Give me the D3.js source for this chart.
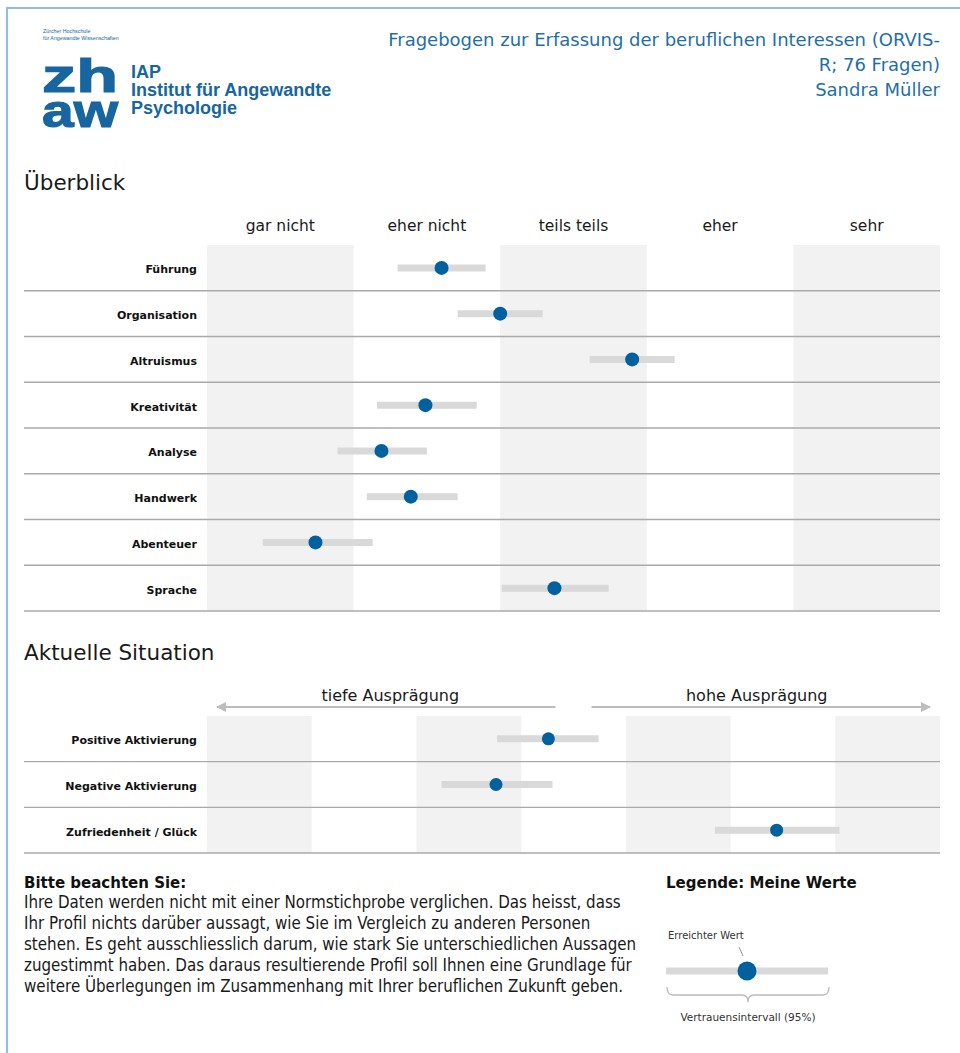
<!DOCTYPE html>
<html>
<head>
<meta charset="utf-8">
<script src="https://cdn.jsdelivr.net/npm/d3@7"></script>
<style>
  body { margin: 0; background: #fff; }
  svg text { font-family: "DejaVu Sans", sans-serif; }
</style>
</head>
<body>
<div id="wrapper"></div>
<script>
// 1. Data

const agreementLabels = ["gar nicht", "eher nicht", "teils teils", "eher", "sehr"];

const interestNames = ["Führung", "Organisation", "Altruismus", "Kreativität",
  "Analyse", "Handwerk", "Abenteuer", "Sprache"];
const interestValues = [2.10, 2.50, 3.40, 1.99, 1.69, 1.89, 1.24, 2.87];
const interestLow = [1.80, 2.21, 3.11, 1.66, 1.39, 1.59, 0.88, 2.51];
const interestHigh = [2.40, 2.79, 3.69, 2.34, 2.00, 2.21, 1.63, 3.24];

const directionLabels = ["tiefe Ausprägung", "hohe Ausprägung"];

const situationNames = ["Positive Aktivierung", "Negative Aktivierung", "Zufriedenheit / Glück"];
const situationValues = [3.76, 3.26, 5.94];
const situationLow = [3.27, 2.74, 5.35];
const situationHigh = [4.24, 3.80, 6.54];

// legend example: low, reached value, high
const legendSample = [0, 0.5, 1];

const titleLines = ["Fragebogen zur Erfassung der beruflichen Interessen (ORVIS-",
  "R; 76 Fragen)", "Sandra Müller"];

const noteLines = [
  "Ihre Daten werden nicht mit einer Normstichprobe verglichen. Das heisst, dass",
  "Ihr Profil nichts darüber aussagt, wie Sie im Vergleich zu anderen Personen",
  "stehen. Es geht ausschliesslich darum, wie stark Sie unterschiedlichen Aussagen",
  "zugestimmt haben. Das daraus resultierende Profil soll Ihnen eine Grundlage für",
  "weitere Überlegungen im Zusammenhang mit Ihrer beruflichen Zukunft geben."
];

// 2. Dimensions

const dimensions = {
  width: 960,
  height: 1053,
  plotLeft: 207,
  plotRight: 940,
  labelRight: 197,
  lineLeft: 24,
};

const blue = "#00619e";
const titleBlue = "#1f6fa6";
const bandGrey = "#f2f2f2";
const ciGrey = "#d9d9d9";
const rowLine = "#aaaaaa";
const textCol = "#1a1a1a";

// 3. Canvas

const svg = d3.select("#wrapper")
  .append("svg")
  .attr("width", dimensions.width)
  .attr("height", dimensions.height);

// page border
svg.append("path")
  .attr("d", "M7,1053 V8 H960")
  .attr("fill", "none")
  .attr("stroke", "#8dbfe0")
  .attr("stroke-width", 2);

// logo
const logo = svg.append("g").attr("fill", "#1766a0");
const logoSmall = logo.append("text")
  .style("font-family", "Liberation Sans, Arial, sans-serif").style("font-size", "5.3px");
logoSmall.append("tspan").attr("x", 43).attr("y", 33).text("Zürcher Hochschule");
logoSmall.append("tspan").attr("x", 43).attr("y", 39.5).text("für Angewandte Wissenschaften");

const logoMark = logo.append("text")
  .style("font-family", "Liberation Sans, Arial, sans-serif")
  .style("font-weight", "bold").style("font-size", "47px")
  .style("stroke", "#1766a0").style("stroke-width", 1.2);
[["zh", 92], ["aw", 127]].forEach(([t, y]) => {
  logoMark.append("tspan").attr("x", 42).attr("y", y)
    .attr("textLength", 76).attr("lengthAdjust", "spacingAndGlyphs")
    .text(t);
});

const logoName = logo.append("text")
  .style("font-family", "Liberation Sans, Arial, sans-serif")
  .style("font-weight", "bold").style("font-size", "18px");
[["IAP", 78], ["Institut für Angewandte", 96], ["Psychologie", 114]].forEach(([t, y]) => {
  logoName.append("tspan").attr("x", 131).attr("y", y).text(t);
});

// title
svg.append("g").selectAll("text").data(titleLines).join("text")
  .attr("x", dimensions.plotRight)
  .attr("y", (d, i) => 46 + i * 25)
  .attr("text-anchor", "end")
  .attr("fill", titleBlue)
  .style("font-size", "18px")
  .text(d => d);

// section headings
svg.append("text").attr("x", 24).attr("y", 190)
  .attr("fill", textCol).style("font-size", "21.5px").text("Überblick");
svg.append("text").attr("x", 24).attr("y", 660)
  .attr("fill", textCol).style("font-size", "21.5px").text("Aktuelle Situation");

// 4. Scales

const xTop = d3.scaleLinear()
  .domain([0.5, agreementLabels.length + 0.5])
  .range([dimensions.plotLeft, dimensions.plotRight]);
const yTop = d3.scaleBand()
  .domain(interestNames)
  .range([245, 611]);

const xBottom = d3.scaleLinear()
  .domain([0.5, 7.5])
  .range([dimensions.plotLeft, dimensions.plotRight]);
const yBottom = d3.scaleBand()
  .domain(situationNames)
  .range([716, 853]);

// 5. Draw data

function drawPanel(g, xScale, yScale, names, values, low, high, nCols, r) {
  const [y0, y1] = yScale.range();
  const cols = d3.range(1, nCols + 1, 2);
  g.append("g").selectAll("rect").data(cols).join("rect")
    .attr("x", d => xScale(d - 0.5))
    .attr("width", d => xScale(d + 0.5) - xScale(d - 0.5))
    .attr("y", y0)
    .attr("height", y1 - y0)
    .attr("fill", bandGrey);

  g.append("g").selectAll("line").data(names).join("line")
    .attr("x1", dimensions.lineLeft)
    .attr("x2", dimensions.plotRight)
    .attr("y1", d => yScale(d) + yScale.bandwidth())
    .attr("y2", d => yScale(d) + yScale.bandwidth())
    .attr("stroke", rowLine)
    .attr("stroke-width", 1.4);

  const rows = g.append("g").selectAll("g").data(names).join("g")
    .attr("transform", d => `translate(0, ${yScale(d) + yScale.bandwidth() / 2})`);

  rows.append("text")
    .attr("x", dimensions.labelRight)
    .attr("y", 5.5)
    .attr("text-anchor", "end")
    .attr("fill", "#111")
    .style("font-size", "11px")
    .style("font-weight", "bold")
    .text(d => d);

  rows.append("line")
    .attr("x1", (d, i) => xScale(low[i]))
    .attr("x2", (d, i) => xScale(high[i]))
    .attr("stroke", ciGrey)
    .attr("stroke-width", 7);

  rows.append("circle")
    .attr("cx", (d, i) => xScale(values[i]))
    .attr("r", r)
    .attr("fill", blue);
}

const topPanel = svg.append("g");
topPanel.append("g").selectAll("text").data(agreementLabels).join("text")
  .attr("x", (d, i) => xTop(i + 1))
  .attr("y", 231)
  .attr("text-anchor", "middle")
  .attr("fill", textCol)
  .style("font-size", "15.5px")
  .text(d => d);
drawPanel(topPanel, xTop, yTop, interestNames, interestValues, interestLow, interestHigh,
  agreementLabels.length, 7);

const bottomPanel = svg.append("g");
drawPanel(bottomPanel, xBottom, yBottom, situationNames, situationValues, situationLow, situationHigh,
  7, 6.5);

// 6. Peripherals: direction arrows
const mid = xBottom(4);
const arrowY = 707;
const defs = svg.append("defs");
defs.append("marker")
  .attr("id", "arrowhead")
  .attr("viewBox", "0 0 10 10")
  .attr("refX", 9).attr("refY", 5)
  .attr("markerWidth", 5).attr("markerHeight", 5)
  .attr("orient", "auto")
  .append("path").attr("d", "M0,0 L10,5 L0,10 z").attr("fill", "#bdbdbd");

const arrows = [
  { label: directionLabels[0], from: mid - 18, to: xBottom(0.5) + 10, shift: 4 },
  { label: directionLabels[1], from: mid + 18, to: xBottom(7.5) - 10, shift: -4 },
];
const arrowG = svg.append("g").selectAll("g").data(arrows).join("g");
arrowG.append("line")
  .attr("x1", d => d.from).attr("x2", d => d.to)
  .attr("y1", arrowY).attr("y2", arrowY)
  .attr("stroke", "#bdbdbd").attr("stroke-width", 2)
  .attr("marker-end", "url(#arrowhead)");
arrowG.append("text")
  .attr("x", d => (d.from + d.to) / 2 + d.shift)
  .attr("y", 701)
  .attr("text-anchor", "middle")
  .attr("fill", textCol)
  .style("font-size", "16px")
  .text(d => d.label);

// note
const note = svg.append("g");
note.append("text").attr("x", 24).attr("y", 888)
  .attr("fill", "#111").style("font-size", "15px").style("font-weight", "bold")
  .text("Bitte beachten Sie:");
note.selectAll("text.line").data(noteLines).join("text")
  .attr("class", "line")
  .attr("x", 24)
  .attr("y", (d, i) => 908 + i * 21)
  .attr("fill", textCol)
  .style("font-family", "'DejaVu Sans Condensed', 'DejaVu Sans', sans-serif")
  .style("font-size", "16.8px")
  .text(d => d);

// legend
const legend = svg.append("g");
legend.append("text").attr("x", 666).attr("y", 888)
  .attr("fill", "#111").style("font-size", "15px").style("font-weight", "bold")
  .text("Legende: Meine Werte");

const xLegend = d3.scaleLinear().domain([0, 1]).range([666, 828]);
const legendY = 971;
legend.append("line")
  .attr("x1", xLegend(legendSample[0])).attr("x2", xLegend(legendSample[2]))
  .attr("y1", legendY).attr("y2", legendY)
  .attr("stroke", ciGrey).attr("stroke-width", 7);
legend.append("circle")
  .attr("cx", xLegend(legendSample[1])).attr("cy", legendY)
  .attr("r", 9.5).attr("fill", blue);
legend.append("line")
  .attr("x1", xLegend(legendSample[1]) - 8).attr("x2", xLegend(legendSample[1]) - 4)
  .attr("y1", 947).attr("y2", 956)
  .attr("stroke", "#999").attr("stroke-width", 1);
legend.append("text").attr("x", 668).attr("y", 939)
  .attr("fill", "#333").style("font-size", "10px").text("Erreichter Wert");

const bx0 = xLegend(legendSample[0]) + 1, bx1 = xLegend(legendSample[2]) + 1;
const bxm = (bx0 + bx1) / 2;
legend.append("path")
  .attr("d", `M${bx0},987 q0,8 6,8 L${bxm - 6},995 q6,0 6,7 q0,-7 6,-7 L${bx1 - 6},995 q6,0 6,-8`)
  .attr("fill", "none").attr("stroke", "#bbbbbb").attr("stroke-width", 1.3);
legend.append("text").attr("x", bxm).attr("y", 1021)
  .attr("text-anchor", "middle")
  .attr("fill", "#333").style("font-size", "10.5px").text("Vertrauensintervall (95%)");
</script>
</body>
</html>
